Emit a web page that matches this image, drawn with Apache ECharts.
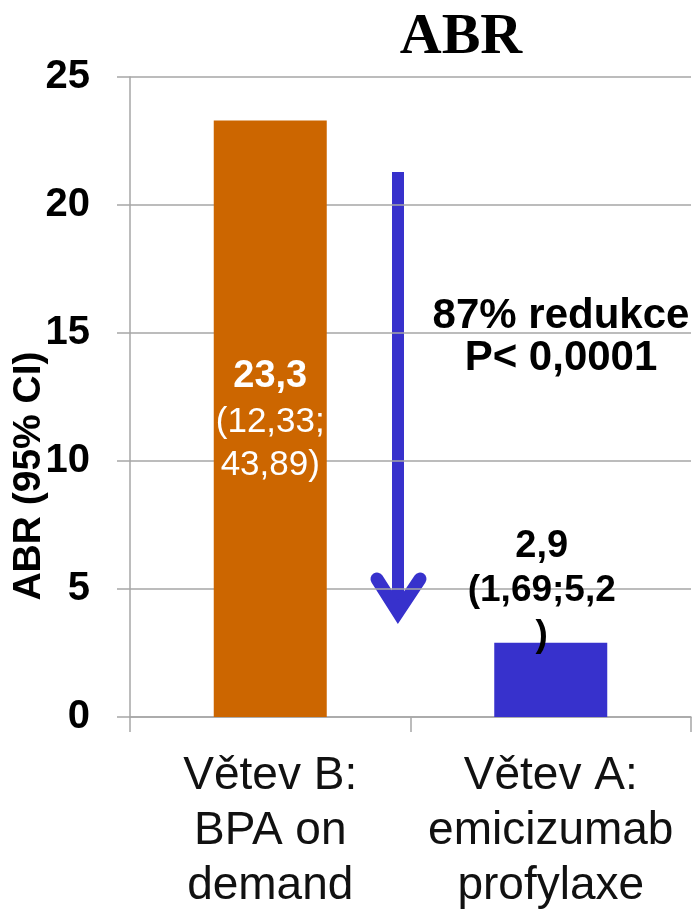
<!DOCTYPE html>
<html>
<head>
<meta charset="utf-8">
<script src="https://cdn.jsdelivr.net/npm/echarts@6/dist/echarts.min.js"></script>
<style>
  html, body { margin: 0; padding: 0; background: #fff; }
  #chart { width: 697px; height: 910px; }
</style>
</head>
<body>
<div id="chart"></div>
<script>
// Annual bleed rate per treatment arm, with 95% confidence interval
const categories = ['Větev B:\nBPA on\ndemand', 'Větev A:\nemicizumab\nprofylaxe'];
const abrValues = [23.3, 2.9];
const ciLow = [12.33, 1.69];
const ciHigh = [43.89, 5.2];
const barColors = ['#CC6600', '#3731CC'];
const yMin = 0, yMax = 25, yStep = 5;

const SANS = "'Liberation Sans', Arial, Helvetica, sans-serif";
const SERIF = "'Liberation Serif', 'Times New Roman', serif";
const GRID = '#a6a6a6';

// decimal comma
const fmt = v => String(v).replace('.', ',');

const chart = echarts.init(document.getElementById('chart'), null, { renderer: 'canvas' });

const barData = [
  {
    value: abrValues[0],
    itemStyle: { color: barColors[0] },
    label: {
      show: true,
      position: ['50%', 232],
      align: 'center',
      verticalAlign: 'top',
      formatter: '{v|' + fmt(abrValues[0]) + '}\n{ci|(' + fmt(ciLow[0]) + ';}\n{ci|' + fmt(ciHigh[0]) + ')}',
      rich: {
        v: { color: '#fff', fontFamily: SANS, fontWeight: 'bold', fontSize: 38, lineHeight: 48, align: 'center' },
        ci: { color: '#fff', fontFamily: SANS, fontWeight: 'normal', fontSize: 35, lineHeight: 43, align: 'center' }
      }
    }
  },
  {
    value: abrValues[1],
    itemStyle: { color: barColors[1] },
    label: {
      show: true,
      position: 'top',
      distance: 0,
      offset: [-9, 16],
      formatter: '{v|' + fmt(abrValues[1]) + '}\n{ci|(' + fmt(ciLow[1]) + ';' + fmt(ciHigh[1]) + '}\n{ci|)}',
      rich: {
        v: { color: '#000', fontFamily: SANS, fontWeight: 'bold', fontSize: 38, lineHeight: 45, align: 'center' },
        ci: { color: '#000', fontFamily: SANS, fontWeight: 'bold', fontSize: 37, lineHeight: 45, align: 'center' }
      }
    }
  }
];

const arrowColor = '#3731CC';

chart.setOption({
  animation: false,
  backgroundColor: '#fff',
  grid: { left: 130, right: 6, top: 77, bottom: 193, containLabel: false, outerBoundsMode: 'none' },
  xAxis: {
    type: 'category',
    data: categories,
    boundaryGap: true,
    axisLine: { show: true, lineStyle: { color: GRID, width: 1.5 } },
    axisTick: { show: true, length: 15, lineStyle: { color: GRID, width: 1.5 } },
    axisLabel: {
      margin: 32,
      fontFamily: SANS,
      fontSize: 46,
      lineHeight: 55,
      color: '#111',
      interval: 0
    }
  },
  yAxis: {
    type: 'value',
    min: yMin,
    max: yMax,
    interval: yStep,
    axisLine: { show: true, lineStyle: { color: GRID, width: 1.5 } },
    axisTick: { show: true, length: 13, lineStyle: { color: GRID, width: 1.5 } },
    splitLine: { show: true, lineStyle: { color: GRID, width: 1.5 } },
    axisLabel: {
      margin: 40,
      fontFamily: SANS,
      fontWeight: 'bold',
      fontSize: 40,
      color: '#000'
    }
  },
  series: [{
    type: 'bar',
    data: barData,
    barWidth: 113
  }],
  graphic: [
    {
      type: 'text',
      x: 461, y: 38,
      style: {
        text: 'ABR',
        fontFamily: SERIF, fontWeight: 'bold', fontSize: 58,
        fill: '#000', align: 'center', verticalAlign: 'middle'
      }
    },
    {
      type: 'text',
      x: 29, y: 476,
      rotation: Math.PI / 2,
      style: {
        text: 'ABR (95% CI)',
        fontFamily: SANS, fontWeight: 'bold', fontSize: 39,
        fill: '#000', align: 'center', verticalAlign: 'middle'
      }
    },
    {
      type: 'text',
      x: 561, y: 337,
      style: {
        text: '87% redukce\nP< 0,0001',
        fontFamily: SANS, fontWeight: 'bold', fontSize: 42, lineHeight: 42,
        fill: '#000', align: 'center', verticalAlign: 'middle'
      }
    },
    {
      type: 'line',
      shape: { x1: 398, y1: 172, x2: 398, y2: 612 },
      style: { stroke: arrowColor, lineWidth: 12 }
    },
    {
      type: 'polyline',
      shape: { points: [[377, 579], [398, 612], [420, 579]] },
      style: { stroke: arrowColor, lineWidth: 13, lineCap: 'round', lineJoin: 'miter', fill: null }
    }
  ]
});
</script>
</body>
</html>
